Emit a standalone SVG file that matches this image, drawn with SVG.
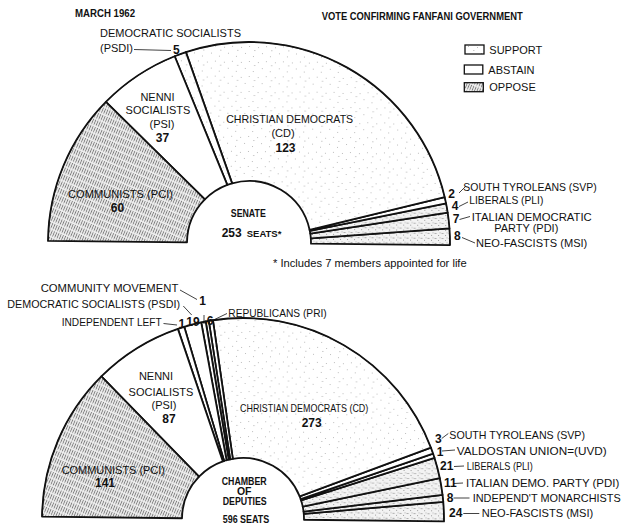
<svg xmlns="http://www.w3.org/2000/svg" width="624" height="525" viewBox="0 0 624 525">
<defs>
<pattern id="sup" width="17" height="15" patternUnits="userSpaceOnUse">
<rect width="17" height="15" fill="#fff"/>
<g fill="#bdbdbd"><rect x="1" y="2" width="1" height="1"/><rect x="9" y="1" width="1" height="1"/><rect x="5" y="8" width="1" height="1"/><rect x="13" y="11" width="1" height="1"/><rect x="14" y="5" width="1.5" height="0.8"/></g>
</pattern>
<pattern id="opp" width="2.4" height="7" patternUnits="userSpaceOnUse" patternTransform="rotate(22)">
<rect width="2.4" height="7" fill="#eeeeee"/>
<path d="M1.2,0V5.5" stroke="#7c7c7c" stroke-width="0.9"/>
</pattern>
<pattern id="opp2" width="7" height="5" patternUnits="userSpaceOnUse">
<rect width="7" height="5" fill="#f3f3f3"/>
<g fill="#9a9a9a"><rect x="0.5" y="1" width="2" height="0.8"/><rect x="4" y="3" width="1" height="1"/><rect x="5.5" y="0.5" width="1" height="0.8"/></g>
</pattern>
<style>
.t{font-family:"Liberation Sans",Arial,sans-serif;font-size:11px;fill:#111}
.n{font-family:"Liberation Sans",Arial,sans-serif;font-size:12px;font-weight:bold;fill:#111}
.h{font-family:"Liberation Sans",Arial,sans-serif;font-size:10.5px;font-weight:bold;fill:#111}
.m{text-anchor:middle}
.s{stroke:#111;stroke-width:1.8;stroke-linejoin:round}
.ld{stroke:#111;stroke-width:0.8;fill:none}
</style>
</defs>
<rect width="624" height="525" fill="#fff"/>

<g id="header">
<text class="h" x="75" y="17.3" textLength="60" lengthAdjust="spacingAndGlyphs">MARCH 1962</text>
<text class="h" x="321.7" y="20" textLength="201" lengthAdjust="spacingAndGlyphs">VOTE CONFIRMING FANFANI GOVERNMENT</text>
</g>

<g id="legend">
<rect x="465" y="45" width="19" height="9" fill="url(#sup)" stroke="#111" stroke-width="1.3"/>
<text class="t" x="489.3" y="54.3">SUPPORT</text>
<rect x="464.3" y="65" width="18.5" height="9" fill="#fff" stroke="#111" stroke-width="1.3"/>
<text class="t" x="488.3" y="74">ABSTAIN</text>
<rect x="464.3" y="82.7" width="19" height="9" fill="url(#opp)" stroke="#111" stroke-width="1.3"/>
<text class="t" x="489.3" y="91">OPPOSE</text>
</g>

<g id="senate" transform="rotate(0.6 249 243)">
<path id="s-msi" class="s" fill="url(#opp2)" d="M311,243 L450,243 A201,201 0 0 0 449.29,226.18 L310.78,237.81 A62,62 0 0 1 311,243 Z"/>
<path id="s-pdi" class="s" fill="url(#opp2)" d="M310.78,237.81 L449.29,226.18 A201,201 0 0 0 447.36,210.52 L310.19,232.98 A62,62 0 0 1 310.78,237.81 Z"/>
<path id="s-pli" class="s" fill="url(#opp2)" d="M310.19,232.98 L447.36,210.52 A201,201 0 0 0 445.64,201.38 L309.66,230.16 A62,62 0 0 1 310.19,232.98 Z"/>
<path id="s-svp" class="s" fill="#fff" d="M309.66,230.16 L445.64,201.38 A201,201 0 0 0 444.2,195.06 L309.44,229.16 A62,62 0 0 1 309.66,230.16 Z"/>
<path id="s-cd" class="s" fill="url(#sup)" d="M309.44,229.16 L444.2,195.06 A201,201 0 0 0 183.89,52.84 L231.49,183.52 A62,62 0 0 1 309.44,229.16 Z"/>
<path id="s-psdi" class="s" fill="url(#sup)" d="M231.49,183.52 L183.89,52.84 A201,201 0 0 0 172.73,57.03 L226.68,185.16 A62,62 0 0 1 231.49,183.52 Z"/>
<path id="s-psi" class="s" fill="#fff" d="M226.68,185.16 L172.73,57.03 A201,201 0 0 0 104.41,103.37 L204.4,199.93 A62,62 0 0 1 226.68,185.16 Z"/>
<path id="s-pci" class="s" fill="url(#opp)" d="M204.4,199.93 L104.41,103.37 A201,201 0 0 0 48,243 L187,243 A62,62 0 0 1 204.4,199.93 Z"/>
<path class="ld" stroke-width="2.4" d="M450,243 A201,201 0 0 0 48,243"/>
</g>

<g id="senate-labels">
<text class="t" x="100" y="37.3">DEMOCRATIC SOCIALISTS</text>
<text class="t" x="100" y="51.7">(PSDI)</text>
<text class="n" x="173" y="54">5</text>
<text class="t m" x="157.5" y="100.7">NENNI</text>
<text class="t m" x="158" y="114">SOCIALISTS</text>
<text class="t m" x="162" y="128.3">(PSI)</text>
<text class="n m" x="162.5" y="141.7">37</text>
<text class="t m" x="289.7" y="122.7" textLength="127" lengthAdjust="spacingAndGlyphs">CHRISTIAN DEMOCRATS</text>
<text class="t m" x="283" y="137.3">(CD)</text>
<text class="n m" x="285.5" y="151.7">123</text>
<text class="t m" x="120.5" y="197.7" textLength="105" lengthAdjust="spacingAndGlyphs">COMMUNISTS (PCI)</text>
<text class="n m" x="117.5" y="211.7">60</text>
<text class="h m" x="248.3" y="217.3" font-size="11.5" textLength="35" lengthAdjust="spacingAndGlyphs">SENATE</text>
<text class="n" x="221.7" y="237.3">253<tspan font-size="9.5" dx="5">SEATS*</tspan></text>
<text class="t" x="273" y="267.3" font-size="10" textLength="193.7" lengthAdjust="spacingAndGlyphs">* Includes 7 members appointed for life</text>
<text class="n" x="448.3" y="197.7">2</text>
<text class="t" x="463.3" y="190.7" textLength="133.4" lengthAdjust="spacingAndGlyphs">SOUTH TYROLEANS (SVP)</text>
<text class="n" x="451.7" y="210">4</text>
<text class="t" x="469.3" y="204" textLength="74" lengthAdjust="spacingAndGlyphs">LIBERALS (PLI)</text>
<text class="n" x="452.7" y="223.3">7</text>
<text class="t" x="471.7" y="220.7" textLength="120" lengthAdjust="spacingAndGlyphs">ITALIAN DEMOCRATIC</text>
<text class="t" x="494.3" y="231.7" textLength="64" lengthAdjust="spacingAndGlyphs">PARTY (PDI)</text>
<text class="n" x="454" y="239.5">8</text>
<text class="t" x="476" y="246.5" textLength="111.3" lengthAdjust="spacingAndGlyphs">NEO-FASCISTS (MSI)</text>
</g>

<g id="chamber" transform="rotate(0.7 243 519)">
<path id="c-msi" class="s" fill="url(#opp2)" d="M304,519 L444,519 A201,201 0 0 0 443.04,499.39 L303.71,513.05 A61,61 0 0 1 304,519 Z"/>
<path id="c-mon" class="s" fill="url(#opp2)" d="M303.71,513.05 L443.04,499.39 A201,201 0 0 0 442.24,492.42 L303.46,510.93 A61,61 0 0 1 303.71,513.05 Z"/>
<path id="c-pdi" class="s" fill="url(#opp2)" d="M303.46,510.93 L442.24,492.42 A201,201 0 0 0 439.31,475.84 L302.58,505.9 A61,61 0 0 1 303.46,510.93 Z"/>
<path id="c-pli" class="s" fill="url(#opp2)" d="M302.58,505.9 L439.31,475.84 A201,201 0 0 0 433.72,455.55 L300.88,499.75 A61,61 0 0 1 302.58,505.9 Z"/>
<path id="c-uvd" class="s" fill="#fff" d="M300.88,499.75 L433.72,455.55 A201,201 0 0 0 432.24,451.24 L300.43,498.44 A61,61 0 0 1 300.88,499.75 Z"/>
<path id="c-svp" class="s" fill="#fff" d="M300.43,498.44 L432.24,451.24 A201,201 0 0 0 430.01,445.33 L299.4,495.75 A61,61 0 0 1 300.43,498.44 Z"/>
<path id="c-cd" class="s" fill="url(#sup)" d="M299.4,495.75 L430.01,445.33 A201,201 0 0 0 210.52,320.64 L232.09,458.98 A61,61 0 0 1 299.4,495.75 Z"/>
<path id="c-pri" class="s" fill="url(#sup)" d="M232.09,458.98 L210.52,320.64 A201,201 0 0 0 206.37,321.37 L229.48,459.52 A61,61 0 0 1 232.09,458.98 Z"/>
<path id="c-pri2" class="s" fill="url(#sup)" d="M229.48,459.52 L206.37,321.37 A201,201 0 0 0 203.27,321.97 L227.93,459.89 A61,61 0 0 1 229.48,459.52 Z"/>
<path id="c-cm" class="s" fill="#fff" d="M227.93,459.89 L203.27,321.97 A201,201 0 0 0 198.81,322.92 L225.88,460.45 A61,61 0 0 1 227.93,459.89 Z"/>
<path id="c-psdi" class="s" fill="#fff" d="M225.88,460.45 L198.81,322.92 A201,201 0 0 0 181.89,327.52 L223.44,461.22 A61,61 0 0 1 225.88,460.45 Z"/>
<path id="c-il" class="s" fill="#fff" d="M223.44,461.22 L181.89,327.52 A201,201 0 0 0 175.57,329.65 L222.14,461.68 A61,61 0 0 1 223.44,461.22 Z"/>
<path id="c-psi" class="s" fill="#fff" d="M222.14,461.68 L175.57,329.65 A201,201 0 0 0 99.64,378.12 L198.53,477.24 A61,61 0 0 1 222.14,461.68 Z"/>
<path id="c-pci" class="s" fill="url(#opp)" d="M198.53,477.24 L99.64,378.12 A201,201 0 0 0 42,519 L182,519 A61,61 0 0 1 198.53,477.24 Z"/>
<path class="ld" stroke-width="2.4" d="M444,519 A201,201 0 0 0 42,519"/>
</g>

<g id="chamber-labels">
<text class="t" x="40.7" y="292.3" textLength="137.6" lengthAdjust="spacingAndGlyphs">COMMUNITY MOVEMENT</text>
<text class="n" x="199.3" y="305" font-size="11">1</text>
<text class="t" x="7.3" y="308.3" textLength="172.7" lengthAdjust="spacingAndGlyphs">DEMOCRATIC SOCIALISTS (PSDI)</text>
<text class="t" x="61.7" y="325.7" textLength="100" lengthAdjust="spacingAndGlyphs">INDEPENDENT LEFT</text>
<text class="n" x="178.5" y="328.3" font-size="11">1</text>
<text class="n" x="186.3" y="326" font-size="11.5">19</text>
<text class="n" x="206.7" y="325" font-size="11.5">6</text>
<text class="t" x="228.3" y="317" textLength="98.4" lengthAdjust="spacingAndGlyphs">REPUBLICANS (PRI)</text>
<text class="t m" x="156" y="380">NENNI</text>
<text class="t m" x="161" y="395.7">SOCIALISTS</text>
<text class="t m" x="164" y="409.3">(PSI)</text>
<text class="n m" x="169" y="423.3">87</text>
<text class="t" x="240" y="412.3" textLength="128.3" lengthAdjust="spacingAndGlyphs">CHRISTIAN DEMOCRATS (CD)</text>
<text class="n" x="301.7" y="426.5">273</text>
<text class="t m" x="113.3" y="474" textLength="103.3" lengthAdjust="spacingAndGlyphs">COMMUNISTS (PCI)</text>
<text class="n m" x="105" y="487.3">141</text>
<text class="h m" x="244.2" y="484.5" font-size="9.5" textLength="45" lengthAdjust="spacingAndGlyphs">CHAMBER</text>
<text class="h m" x="244.2" y="494.6" font-size="7">OF</text>
<text class="h m" x="244.7" y="505.2" font-size="9.5" textLength="44" lengthAdjust="spacingAndGlyphs">DEPUTIES</text>
<text class="h m" x="246" y="522.5" font-size="10" textLength="46.6" lengthAdjust="spacingAndGlyphs">596 SEATS</text>
<text class="n" x="435" y="442.5" font-size="11.5">3</text>
<text class="t" x="449.3" y="438.5" textLength="135.7" lengthAdjust="spacingAndGlyphs">SOUTH TYROLEANS (SVP)</text>
<text class="n" x="436.7" y="455.5" font-size="11.5">1</text>
<text class="t" x="456.7" y="454.5" textLength="150" lengthAdjust="spacingAndGlyphs">VALDOSTAN UNION=(UVD)</text>
<text class="n" x="440" y="470">21</text>
<text class="t" x="466.7" y="470" textLength="66" lengthAdjust="spacingAndGlyphs">LIBERALS (PLI)</text>
<text class="n" x="444" y="486.7">11</text>
<text class="t" x="466" y="486.7" textLength="153.3" lengthAdjust="spacingAndGlyphs">ITALIAN DEMO. PARTY (PDI)</text>
<text class="n" x="446.7" y="501.5">8</text>
<text class="t" x="472.7" y="501.5" textLength="148" lengthAdjust="spacingAndGlyphs">INDEPEND'T MONARCHISTS</text>
<text class="n" x="449" y="517">24</text>
<text class="t" x="481.7" y="517" textLength="111.6" lengthAdjust="spacingAndGlyphs">NEO-FASCISTS (MSI)</text>
</g>

<g id="connectors">
<path class="ld" d="M134,49.5 L171,50.5"/>
<path class="ld" d="M459,193 L465,187"/>
<path class="ld" d="M459,206.5 L468,202"/>
<path class="ld" d="M459.5,219.5 L470,216.5"/>
<path class="ld" d="M462,237.5 L475,243"/>
<path class="ld" d="M180,290 L197,299.5"/>
<path class="ld" d="M204,315 L204,324"/>
<path class="ld" d="M183.3,306 L191.7,315"/>
<path class="ld" d="M163.5,323.5 L177,325"/>
<path class="ld" d="M213.5,320 L227,313.5"/>
<path class="ld" d="M441.7,438.5 L448.3,433.5"/>
<path class="ld" d="M442,451 L455,450"/>
<path class="ld" d="M454,466.5 L464,466"/>
<path class="ld" d="M454,483.5 L463,483"/>
<path class="ld" d="M453.5,498 L469.5,498"/>
<path class="ld" d="M463.3,513.5 L479.3,513.5"/>
</g>
</svg>
